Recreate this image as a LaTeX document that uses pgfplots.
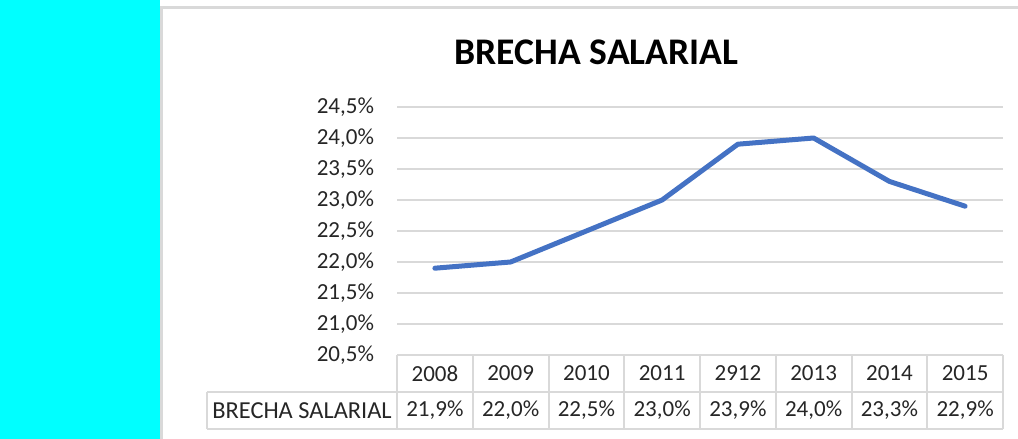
\documentclass[border=0pt]{standalone}
\usepackage{fontspec}
\setmainfont{Carlito}
\usepackage{pgfplots}
\pgfplotsset{compat=1.18}
\definecolor{lineblue}{HTML}{4472C4}
\definecolor{gridgray}{HTML}{D9D9D9}
\definecolor{txt}{HTML}{262626}
\definecolor{sidecyan}{HTML}{00FFFF}
\begin{document}
\begin{tikzpicture}[x=0.5pt,y=0.5pt]
\useasboundingbox (0,0) rectangle (1018,439);
\fill[sidecyan] (0,0) rectangle (160,439);
\draw[gridgray, line width=1.5pt] (161.5,0) -- (161.5,431) -- (1018,431);
\node[anchor=base, font=\bfseries\fontsize{18.8}{21}\selectfont] at (596.5,374) {BRECHA SALARIAL};
\begin{axis}[
    at={(198.5pt,42pt)}, anchor=south west,
    scale only axis, width=303pt, height=124pt,
    xmin=-0.5, xmax=7.5, ymin=20.5, ymax=24.5,
    xtick=\empty,
    ytick={20.5,21,21.5,22,22.5,23,23.5,24,24.5},
    yticklabel={\pgfmathprintnumber[fixed,fixed zerofill,precision=1,use comma,assume math mode=true]{\tick}\%},
    yticklabel style={font=\fontsize{11.5}{13}\selectfont, text=txt, xshift=-8pt},
    axis line style={draw=none},
    major tick length=0pt,
    ymajorgrids,
    grid style={gridgray, line width=1pt},
]
\addplot[lineblue, line width=2.5pt, line join=round, line cap=round] coordinates {
    (0,21.9) (1,22.0) (2,22.5) (3,23.0) (4,23.9) (5,24.0) (6,23.3) (7,22.9)
};
\end{axis}
% data table
\draw[gridgray, line width=1pt] (397,84) -- (1003,84) (207,47) -- (1003,47) (207,10) -- (1003,10) (207,10) -- (207,47);
\foreach \k in {0,...,8} {\draw[gridgray, line width=1pt] ({397+75.75*\k},10) -- ({397+75.75*\k},84);}
\begin{scope}[every node/.style={font=\fontsize{11.5}{13}\selectfont, text=txt}]
\node[font=\fontsize{12.2}{14}\selectfont] at (302,28.5) {BRECHA SALARIAL};
\node at (434.9,65.5) {2008}; \node at (434.9,28.5) {21,9\%};
\node at (510.6,65.5) {2009}; \node at (510.6,28.5) {22,0\%};
\node at (586.4,65.5) {2010}; \node at (586.4,28.5) {22,5\%};
\node at (662.1,65.5) {2011}; \node at (662.1,28.5) {23,0\%};
\node at (737.9,65.5) {2912}; \node at (737.9,28.5) {23,9\%};
\node at (813.6,65.5) {2013}; \node at (813.6,28.5) {24,0\%};
\node at (889.4,65.5) {2014}; \node at (889.4,28.5) {23,3\%};
\node at (965.1,65.5) {2015}; \node at (965.1,28.5) {22,9\%};
\end{scope}
\end{tikzpicture}
\end{document}
